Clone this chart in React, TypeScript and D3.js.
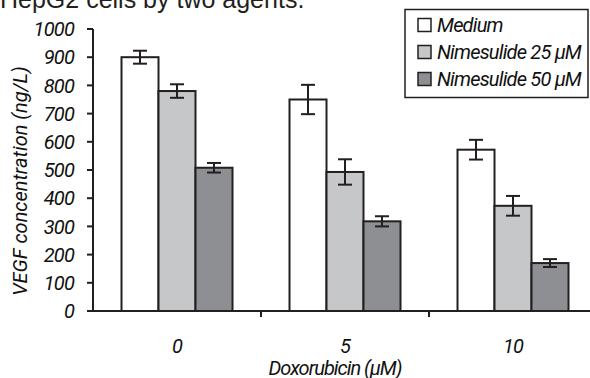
import React from "react";
import * as d3 from "d3";

const categories = ["0", "5", "10"];
const seriesNames = ["Medium", "Nimesulide 25 µM", "Nimesulide 50 µM"];
const medium = [900, 750, 572];
const nim25 = [780, 493, 373];
const nim50 = [508, 318, 170];
const mediumErr = [23, 52, 35];
const nim25Err = [24, 45, 35];
const nim50Err = [17, 18, 14];
const yTicks = [0, 100, 200, 300, 400, 500, 600, 700, 800, 900, 1000];
const fills = ["#ffffff", "#c6c7c9", "#8e8f93"];

const W = 590, H = 378;
const FONT = "Roboto, 'Liberation Sans', sans-serif";
const INK = "#231f20";
const FS = 20;
const LS = -0.8;

export default function App() {
  const x0 = d3.scaleBand<string>().domain(categories).range([93, 597]).paddingInner(0).paddingOuter(0);
  const x1 = d3.scaleBand<string>().domain(seriesNames).range([0, 111]).padding(0);
  const y = d3.scaleLinear().domain([0, 1000]).range([311, 29]);
  const values = [medium, nim25, nim50];
  const errs = [mediumErr, nim25Err, nim50Err];
  const groupOffset = (x0.bandwidth() - 111) / 2;

  const txt = { fontFamily: FONT, fontStyle: "italic" as const, fontSize: FS, fill: "#111", letterSpacing: LS };

  return (
    <svg width={W} height={H} style={{ position: "absolute", left: 0, top: 0, background: "#fff" }}>
      <text x={0} y={8} fontFamily="'Liberation Sans', Arial, sans-serif" fontSize={25} fill={INK}>
        HepG2 cells by two agents.
      </text>
      {categories.map((c, ci) => (
        <g key={c} transform={`translate(${x0(c)! + groupOffset},0)`}>
          {seriesNames.map((s, si) => {
            const v = values[si][ci];
            const e = errs[si][ci];
            const bx = x1(s)!;
            const bw = x1.bandwidth();
            const cx = bx + bw / 2;
            return (
              <g key={s}>
                <rect x={bx} y={y(v)} width={bw} height={y(0) - y(v)} fill={fills[si]} stroke={INK} strokeWidth={2} />
                <line x1={cx} x2={cx} y1={y(v + e)} y2={y(v - e)} stroke={INK} strokeWidth={2} />
                <line x1={cx - 7} x2={cx + 7} y1={y(v + e)} y2={y(v + e)} stroke={INK} strokeWidth={2} />
                <line x1={cx - 7} x2={cx + 7} y1={y(v - e)} y2={y(v - e)} stroke={INK} strokeWidth={2} />
              </g>
            );
          })}
        </g>
      ))}
      <line x1={93} x2={93} y1={y(1000)} y2={y(0)} stroke={INK} strokeWidth={2} />
      {yTicks.map((t) => (
        <g key={t}>
          <line x1={87} x2={93} y1={y(t)} y2={y(t)} stroke={INK} strokeWidth={2} />
          <text x={74} y={y(t)} dy="0.36em" textAnchor="end" {...txt}>
            {t}
          </text>
        </g>
      ))}
      <line x1={92} x2={W} y1={y(0)} y2={y(0)} stroke={INK} strokeWidth={2} />
      {categories.slice(1).map((c) => (
        <line key={c} x1={x0(c)!} x2={x0(c)!} y1={y(0)} y2={y(0) + 6} stroke={INK} strokeWidth={2} />
      ))}
      {categories.map((c) => (
        <text key={c} x={x0(c)! + x0.bandwidth() / 2} y={353} textAnchor="middle" {...txt}>
          {c}
        </text>
      ))}
      <text x={335} y={375} textAnchor="middle" {...txt} letterSpacing={-1}>
        Doxorubicin (µM)
      </text>
      <text transform={`translate(27,181) rotate(-90)`} textAnchor="middle" {...txt} fontSize={20} letterSpacing={0}>
        VEGF concentration (ng/L)
      </text>
      <rect x={405} y={9.5} width={183} height={88} fill="#fff" stroke={INK} strokeWidth={1.5} />
      {seriesNames.map((s, i) => {
        const cy = 25 + i * 27;
        return (
          <g key={s}>
            <rect x={418} y={cy - 6.5} width={13} height={13} fill={fills[i]} stroke={INK} strokeWidth={1.5} />
            <text x={437} y={cy} dy="0.36em" {...txt}>
              {s}
            </text>
          </g>
        );
      })}
    </svg>
  );
}
